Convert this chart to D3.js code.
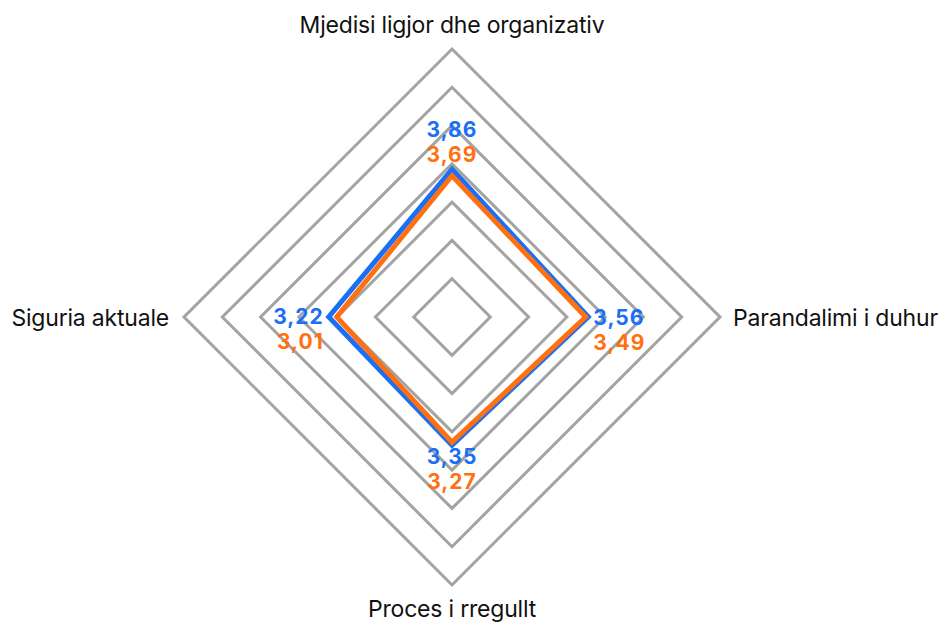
<!DOCTYPE html>
<html>
<head>
<meta charset="utf-8">
<script src="https://cdn.jsdelivr.net/npm/d3@7"></script>
<style>
body{margin:0;background:#fff;}
text{font-family:Inter, "Noto Sans", sans-serif;}
</style>
</head>
<body>
<div class="radar"></div>
<script>
// axes, clockwise from top
const axes = ['Mjedisi ligjor dhe organizativ', 'Parandalimi i duhur', 'Proces i rregullt', 'Siguria aktuale'];
const seriesA = [3.86, 3.56, 3.35, 3.22];
const seriesB = [3.69, 3.49, 3.27, 3.01];
const levels = [1, 2, 3, 4, 5, 6, 7];
const colA = '#1a6ff4';
const colB = '#ff7012';

const width = 943;
const height = 624;
const cx = 452, cy = 317;
const R = 268;

const svg = d3.select('.radar')
    .append('svg')
    .attr('width', width)
    .attr('height', height)

const r = d3.scaleLinear().domain([0, 7]).range([0, R]);
// 4 axes, a quarter turn each, starting at the top
function angle(i) { return i * Math.PI / 2; }
function pt(i, v) {
    const a = angle(i);
    return [cx + r(v) * Math.sin(a), cy - r(v) * Math.cos(a)];
}

const line = d3.line().curve(d3.curveLinearClosed);

// grid diamonds
svg.selectAll('.grid')
    .data(levels)
    .enter()
    .append('path')
    .attr('class', 'grid')
    .attr('d', lv => line(axes.map((a, i) => pt(i, lv))))
    .attr('fill', 'none')
    .attr('stroke', '#a3a3a3')
    .attr('stroke-width', 3)
    .attr('stroke-linejoin', 'miter')

// series
;[[seriesA, colA], [seriesB, colB]].forEach(s => {
    svg.append('path')
        .attr('d', line(s[0].map((v, i) => pt(i, v))))
        .attr('fill', 'none')
        .attr('stroke', s[1])
        .attr('stroke-width', 5)
        .attr('stroke-linejoin', 'miter')
})

// axis labels
const fmt = v => d3.format('.2f')(v).replace('.', ',');
const axisLab = [
    {x: cx, y: 33, anchor: 'middle'},
    {x: cx + R + 13, y: 326, anchor: 'start'},
    {x: cx, y: 617, anchor: 'middle'},
    {x: cx - R - 15, y: 326, anchor: 'end'}
];
svg.selectAll('.axlab')
    .data(axes)
    .enter()
    .append('text')
    .attr('class', 'axlab')
    .text(d => d)
    .attr('x', (d, i) => axisLab[i].x)
    .attr('y', (d, i) => axisLab[i].y)
    .attr('text-anchor', (d, i) => axisLab[i].anchor)
    .attr('font-size', 23)
    .attr('letter-spacing', -0.2)
    .attr('fill', '#111')

// value labels placed next to the blue vertex
const offs = [
    {dx: 0, dy: -32, anchor: 'middle'},
    {dx: 5, dy: 8, anchor: 'start'},
    {dx: 0, dy: 19, anchor: 'middle'},
    {dx: -5, dy: 7, anchor: 'end'}
];
seriesA.forEach((v, i) => {
    const p = pt(i, v);
    const o = offs[i];
    svg.append('text')
        .text(fmt(v))
        .attr('x', p[0] + o.dx)
        .attr('y', p[1] + o.dy)
        .attr('text-anchor', o.anchor)
        .attr('font-size', 21)
        .attr('letter-spacing', 1)
        .attr('font-weight', 'bold')
        .attr('fill', colA)
    svg.append('text')
        .text(fmt(seriesB[i]))
        .attr('x', p[0] + o.dx)
        .attr('y', p[1] + o.dy + 25)
        .attr('text-anchor', o.anchor)
        .attr('font-size', 21)
        .attr('letter-spacing', 1)
        .attr('font-weight', 'bold')
        .attr('fill', colB)
})
</script>
</body>
</html>
